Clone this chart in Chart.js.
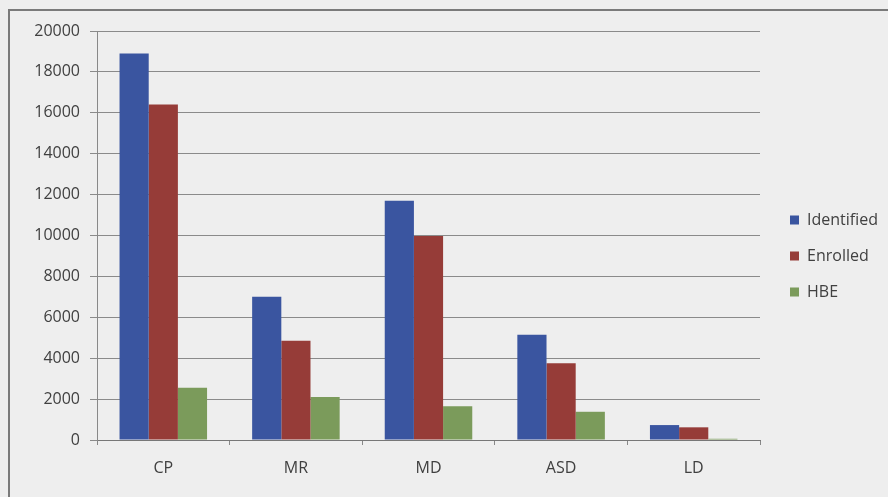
<!DOCTYPE html>
<html>
<head>
<meta charset="utf-8">
<script src="https://cdn.jsdelivr.net/npm/chart.js@4"></script>
<style>
  body { margin: 0; background: #eeeeee; }
  #frame { position: absolute; left: 8px; top: 9px; width: 900px; height: 500px;
           border-left: 2px solid #7a7a7a; border-top: 2px solid #7a7a7a; }
  #wrap { position: absolute; left: 0; top: 0; width: 888px; height: 497px; }
</style>
</head>
<body>
<div id="frame"></div>
<div id="wrap"><canvas id="myChart" width="888" height="497"></canvas></div>
<script>
const ctx = document.getElementById('myChart');

// categories and series
const categories = ['CP', 'MR', 'MD', 'ASD', 'LD'];
const identified = [18900, 7000, 11700, 5150, 730];
const enrolled = [16400, 4850, 9980, 3750, 620];
const hbe = [2550, 2100, 1650, 1380, 60];

const yMax = 20000;
const yStep = 2000;

const font = { family: '"Open Sans", sans-serif', size: 16 };

// nudge legend a bit, like the excel one
const legendShift = {
    id: 'legendShift',
    afterLayout(chart) {
        chart.legend.top -= 8;
        chart.legend.bottom -= 8;
        chart.legend.left += 10;
        chart.legend.right += 10;
    }
};

new Chart(ctx, {
    type: 'bar',
    data: {
        labels: categories,
        datasets: [
            { label: 'Identified', data: identified, backgroundColor: '#3a55a0' },
            { label: 'Enrolled', data: enrolled, backgroundColor: '#963c38' },
            { label: 'HBE', data: hbe, backgroundColor: '#7b9b5b' }
        ]
    },
    options: {
        responsive: false,
        animation: false,
        layout: { padding: { top: 31, right: 10, bottom: 0, left: 0 } },
        datasets: { bar: { categoryPercentage: 0.66, barPercentage: 1 } },
        plugins: {
            tooltip: { enabled: false },
            legend: {
                position: 'right',
                labels: {
                    boxWidth: 9, boxHeight: 9, padding: 20,
                    color: '#404040', font: font
                }
            }
        },
        scales: {
            x: {
                grid: { offset: true, drawOnChartArea: false, tickLength: 5, color: '#888' },
                border: { color: '#777' },
                ticks: { color: '#404040', font: font, padding: 14 },
                afterFit: s => { s.height = 57; }
            },
            y: {
                min: 0, max: yMax,
                grid: { color: '#8a8a8a', tickLength: 7 },
                border: { color: '#888' },
                ticks: { stepSize: yStep, color: '#404040', font: font, padding: 10,
                         callback: v => String(v) },
                afterFit: s => { s.width = 97; }
            }
        }
    },
    plugins: [legendShift]
});
</script>
</body>
</html>
